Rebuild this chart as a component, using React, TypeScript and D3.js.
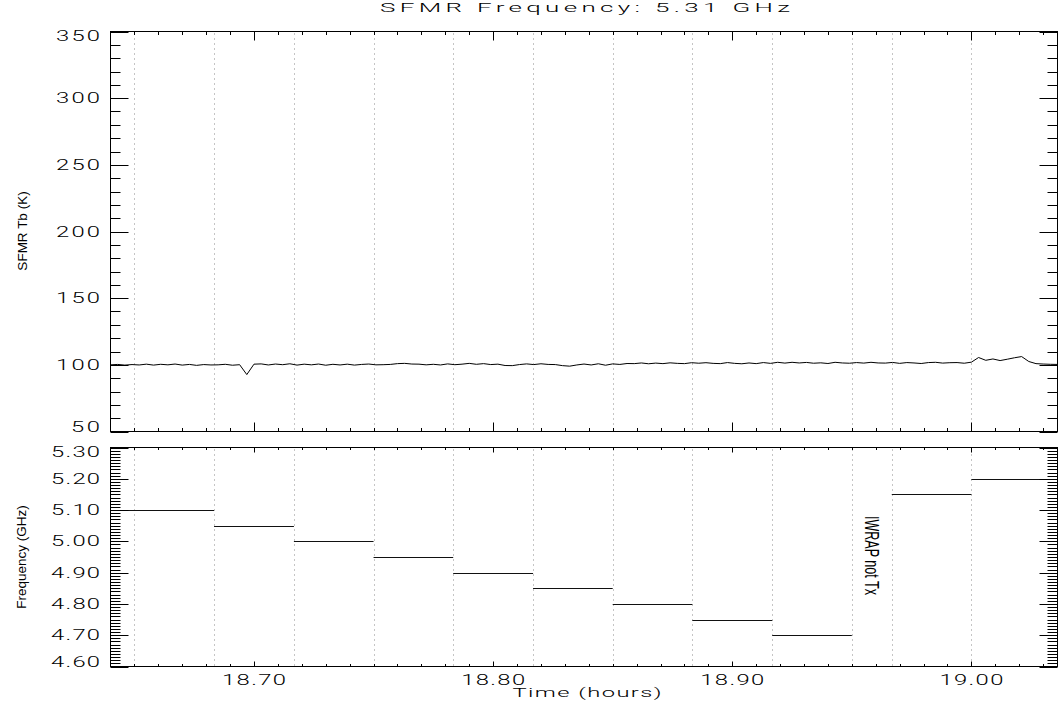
import React from 'react';
import * as d3 from 'd3';

// ---------- text ----------
const TITLE = 'SFMR Frequency: 5.31 GHz';
const X_LABEL = 'Time (hours)';
const Y_LABEL_TOP = 'SFMR Tb (K)';
const Y_LABEL_BOTTOM = 'Frequency (GHz)';
const NOTE = 'IWRAP not Tx';

// ---------- axes ----------
const X_DOMAIN = [18.64, 19.036];
const X_MAJOR_TICKS = [18.7, 18.8, 18.9, 19.0];
const X_TICK_LABELS = ['18.70', '18.80', '18.90', '19.00'];
const TB_DOMAIN = [50, 350];
const TB_TICKS = [50, 100, 150, 200, 250, 300, 350];
const TB_TICK_LABELS = ['50', '100', '150', '200', '250', '300', '350'];
const FREQ_DOMAIN = [4.6, 5.3];
const FREQ_TICKS = [4.6, 4.7, 4.8, 4.9, 5.0, 5.1, 5.2, 5.3];
const FREQ_TICK_LABELS = ['4.60', '4.70', '4.80', '4.90', '5.00', '5.10', '5.20', '5.30'];

// ---------- frequency schedule ----------
const STEP_TIMES = [18.65, 18.6833, 18.7167, 18.75, 18.7833, 18.8167, 18.85, 18.8833, 18.9167, 18.95, 18.9667, 19.0];
const SEG_START = [18.64, 18.6833, 18.7167, 18.75, 18.7833, 18.8167, 18.85, 18.8833, 18.9167, 18.9667, 19.0];
const SEG_END = [18.6833, 18.7167, 18.75, 18.7833, 18.8167, 18.85, 18.8833, 18.9167, 18.95, 19.0, 19.036];
const SEG_FREQ = [5.10, 5.05, 5.00, 4.95, 4.90, 4.85, 4.80, 4.75, 4.70, 5.15, 5.20];
const NOTE_TIME = 18.9583;
const NOTE_FREQ = 4.955;

// ---------- brightness temperature ----------
const TB_START = 18.64;
const TB_STEP = 0.003;
const TB_VALUES = [
  100.0, 100.3, 99.8, 100.2, 99.9, 100.5, 99.8, 100.4, 100.0, 100.6,
  99.8, 100.3, 99.6, 100.2, 99.9, 100.0, 100.4, 99.7, 100.1, 92.7,
  100.5, 100.7, 99.9, 100.6, 100.1, 100.8, 99.8, 100.5, 100.0, 100.6,
  99.7, 100.4, 99.9, 100.5, 99.8, 100.3, 100.6, 100.0, 100.1, 100.3,
  100.9, 101.1, 100.6, 100.5, 100.0, 100.4, 99.9, 100.7, 100.1, 100.5,
  101.1, 100.4, 100.9, 100.2, 100.5, 99.5, 99.4, 100.2, 100.7, 100.2,
  100.8, 100.3, 100.2, 99.4, 99.0, 99.9, 100.6, 99.9, 100.8, 99.7,
  100.7, 100.3, 101.0, 100.9, 101.4, 100.8, 101.3, 100.9, 101.5, 101.1,
  100.9, 101.6, 101.2, 101.6, 101.1, 100.9, 101.7, 101.1, 100.8, 101.4,
  100.9, 101.7, 101.1, 101.9, 101.3, 101.9, 101.4, 101.8, 101.2, 101.5,
  101.0, 101.9, 101.4, 101.2, 101.7, 101.3, 101.9, 101.4, 101.3, 101.8,
  101.1, 101.7, 101.4, 101.0, 101.7, 101.9, 101.3, 101.6, 101.7, 101.2,
  102.0, 105.5, 103.4, 104.4, 103.2, 104.2, 105.3, 106.2, 102.5, 100.9,
  100.6, 100.4, 100.3,
];

// ---------- layout ----------
const W = 1059;
const H = 706;
const LEFT = 110.5;
const RIGHT = 1057.5;
const TOP1 = 31.5;
const BOT1 = 431.5;
const TOP2 = 447.5;
const BOT2 = 666.5;
const FONT = 'Liberation Sans, Arial, sans-serif';
const WIDE_FONT = 'Roboto, Liberation Sans, Arial, sans-serif';

function labelWidth(s: string) {
  let w = 0;
  for (const c of s) w += c === '.' ? 5 : 15;
  return w - 1;
}

function WText(props: { x: number; y: number; text: string; width: number; size: number; sx: number; anchor?: string }) {
  const { x, y, text, width, size, sx, anchor = 'middle' } = props;
  return (
    <text
      transform={`translate(${x},${y}) scale(${sx},1)`}
      x={0}
      y={0}
      textAnchor={anchor}
      fontSize={size}
      fontFamily={WIDE_FONT}
      fontWeight={300}
      textLength={width / sx}
      lengthAdjust="spacing"
      fill="#000"
    >
      {text}
    </text>
  );
}

export default function App() {
  const x = d3.scaleLinear().domain(X_DOMAIN).range([LEFT, RIGHT]);
  const yT = d3.scaleLinear().domain(TB_DOMAIN).range([BOT1, TOP1]);
  const yF = d3.scaleLinear().domain(FREQ_DOMAIN).range([BOT2, TOP2]);
  const px = (v: number) => Math.round(v) + 0.5;

  const xMinor = d3.range(1, 40).map((k) => 18.64 + k * 0.01).filter((t) => !X_MAJOR_TICKS.some((m) => Math.abs(m - t) < 1e-6));
  const tbMinor = d3.range(50, 351, 10).filter((v) => v % 50 !== 0);
  const fMinor = d3.range(0, 71).map((k) => 4.6 + k * 0.01).filter((v, i) => i % 10 !== 0);

  const tbLine = d3
    .line<number>()
    .x((_, i) => x(TB_START + i * TB_STEP))
    .y((v) => yT(v));

  const xTicks = (top: number, bot: number, major: number, minor: number, key: string) => (
    <g key={key} stroke="#000" strokeWidth={1}>
      {X_MAJOR_TICKS.map((t) => (
        <g key={t}>
          <line x1={px(x(t))} x2={px(x(t))} y1={top} y2={top + major} />
          <line x1={px(x(t))} x2={px(x(t))} y1={bot} y2={bot - major} />
        </g>
      ))}
      {xMinor.map((t) => (
        <g key={t}>
          <line x1={px(x(t))} x2={px(x(t))} y1={top} y2={top + minor} />
          <line x1={px(x(t))} x2={px(x(t))} y1={bot} y2={bot - minor} />
        </g>
      ))}
    </g>
  );

  const yTicks = (scale: d3.ScaleLinear<number, number>, majors: number[], minors: number[], key: string) => (
    <g key={key} stroke="#000" strokeWidth={1}>
      {majors.map((v) => (
        <g key={v}>
          <line x1={LEFT} x2={LEFT + 18} y1={px(scale(v))} y2={px(scale(v))} />
          <line x1={RIGHT} x2={RIGHT - 18} y1={px(scale(v))} y2={px(scale(v))} />
        </g>
      ))}
      {minors.map((v) => (
        <g key={v}>
          <line x1={LEFT} x2={LEFT + 10} y1={px(scale(v))} y2={px(scale(v))} />
          <line x1={RIGHT} x2={RIGHT - 10} y1={px(scale(v))} y2={px(scale(v))} />
        </g>
      ))}
    </g>
  );

  const yLabels = (scale: d3.ScaleLinear<number, number>, ticks: number[], labels: string[], top: number, bot: number) =>
    ticks.map((v, i) => {
      const cy = Math.min(Math.max(scale(v), top + 4.5), bot - 4.5);
      return <WText key={labels[i]} x={100} y={cy + 5} text={labels[i]} width={labelWidth(labels[i])} size={14} sx={1.7} anchor="end" />;
    });

  return (
    <svg width={W} height={H} style={{ position: 'absolute', left: 0, top: 0, background: '#fff' }}>
      <rect x={0} y={0} width={W} height={H} fill="#fff" />

      {/* dotted schedule lines */}
      <g stroke="#8a8a8a" strokeWidth={1} strokeDasharray="1 4">
        {STEP_TIMES.map((t) => (
          <g key={t}>
            <line x1={px(x(t))} x2={px(x(t))} y1={TOP1 + 2} y2={BOT1} />
            <line x1={px(x(t))} x2={px(x(t))} y1={TOP2 + 2} y2={BOT2} />
          </g>
        ))}
      </g>

      {/* Tb line */}
      <path d={tbLine(TB_VALUES) || ''} fill="none" stroke="#000" strokeWidth={1} />

      {/* frequency steps */}
      <g stroke="#111" strokeWidth={1}>
        {SEG_FREQ.map((f, i) => (
          <line key={i} x1={x(SEG_START[i])} x2={x(SEG_END[i])} y1={px(yF(f))} y2={px(yF(f))} />
        ))}
      </g>

      {/* frames */}
      <rect x={LEFT} y={TOP1} width={RIGHT - LEFT} height={BOT1 - TOP1} fill="none" stroke="#000" strokeWidth={1} />
      <rect x={LEFT} y={TOP2} width={RIGHT - LEFT} height={BOT2 - TOP2} fill="none" stroke="#000" strokeWidth={1} />

      {xTicks(TOP1, BOT1, 9, 3.5, 'xt1')}
      {xTicks(TOP2, BOT2, 5, 2.5, 'xt2')}
      {yTicks(yT, TB_TICKS, tbMinor, 'yt1')}
      {yTicks(yF, FREQ_TICKS, fMinor, 'yt2')}

      {yLabels(yT, TB_TICKS, TB_TICK_LABELS, TOP1, BOT1)}
      {yLabels(yF, FREQ_TICKS, FREQ_TICK_LABELS, TOP2, BOT2)}

      {X_MAJOR_TICKS.map((t, i) => (
        <WText key={t} x={x(t)} y={685} text={X_TICK_LABELS[i]} width={labelWidth(X_TICK_LABELS[i])} size={14} sx={1.7} />
      ))}

      <WText x={585} y={12} text={TITLE} width={410} size={13} sx={2.0} />
      <WText x={587} y={697} text={X_LABEL} width={149} size={12.5} sx={1.9} />

      <text transform={`translate(27,231) rotate(-90)`} textAnchor="middle" fontSize={13.5} fontFamily={FONT} fill="#000">
        {Y_LABEL_TOP}
      </text>
      <text transform={`translate(25.5,557) rotate(-90)`} textAnchor="middle" fontSize={13.5} fontFamily={FONT} fill="#000">
        {Y_LABEL_BOTTOM}
      </text>

      <text
        transform={`translate(${x(NOTE_TIME) - 7},${yF(NOTE_FREQ)}) rotate(90)`}
        textAnchor="middle"
        fontSize={21}
        fontFamily={FONT}
        textLength={79}
        lengthAdjust="spacingAndGlyphs"
        fill="#000"
      >
        {NOTE}
      </text>
    </svg>
  );
}
